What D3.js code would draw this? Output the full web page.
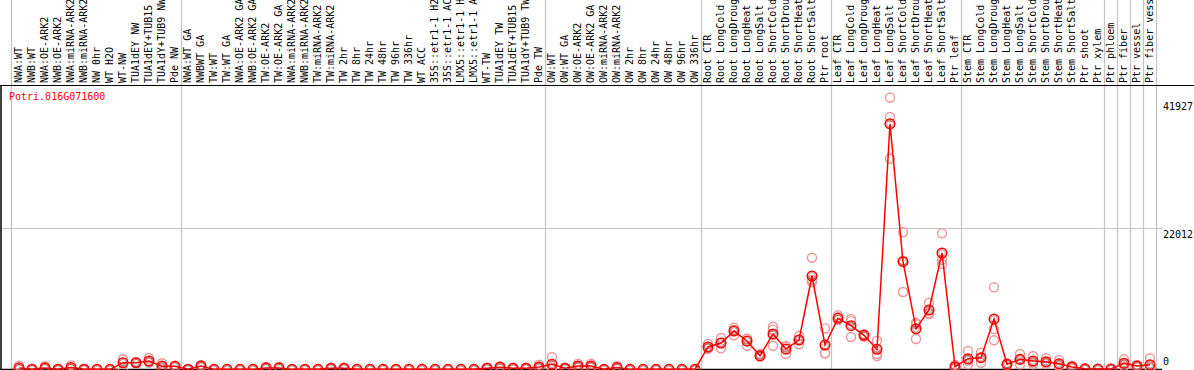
<!DOCTYPE html>
<html>
<head>
<meta charset="utf-8">
<script src="https://cdn.jsdelivr.net/npm/d3@7/dist/d3.min.js"></script>
<style>
  html, body { margin: 0; padding: 0; background: #fff; }
  svg { display: block; }
  text { font-family: "DejaVu Sans Mono", monospace; font-size: 10px; }
</style>
</head>
<body>
<svg id="chart" width="1194" height="370"></svg>
<script>
// ---------- data ----------
const geneName = "Potri.016G071600";

const categories = [
  "NWA:WT","NWB:WT","NWA:OE-ARK2","NWB:OE-ARK2","NWA:miRNA-ARK2","NWB:miRNA-ARK2",
  "NW 0hr","WT H2O","WT-NW","TUA1dEY NW","TUA1dEY+TUB15 NW","TUA1dY+TUB9 NW","Pde NW",
  "NWA:WT GA","NWBWT GA","TW:WT","TW:WT GA","NWA:OE-ARK2 GA","NWB:OE-ARK2 GA",
  "TW:OE-ARK2","TW:OE-ARK2 GA","NWA:miRNA-ARK2 GA","NWB:miRNA-ARK2 GA","TW:miRNA-ARK2",
  "TW:miRNA-ARK2 GA","TW 2hr","TW 8hr","TW 24hr","TW 48hr","TW 96hr","TW 336hr","WT ACC",
  "35S::etr1-1 H2O","35S::etr1-1 ACC","LMX5::etr1-1 H2O","LMX5::etr1-1 ACC","WT-TW",
  "TUA1dEY TW","TUA1dEY+TUB15 TW","TUA1dY+TUB9 TW","Pde TW",
  "OW:WT","OW:WT GA","OW:OE-ARK2","OW:OE-ARK2 GA","OW:miRNA-ARK2","OW:miRNA-ARK2 GA",
  "OW 2hr","OW 8hr","OW 24hr","OW 48hr","OW 96hr","OW 336hr",
  "Root CTR","Root LongCold","Root LongDrought","Root LongHeat","Root LongSalt",
  "Root ShortCold","Root ShortDrought","Root ShortHeat","Root ShortSalt","Ptr root",
  "Leaf CTR","Leaf LongCold","Leaf LongDrought","Leaf LongHeat","Leaf LongSalt",
  "Leaf ShortCold","Leaf ShortDrought","Leaf ShortHeat","Leaf ShortSalt","Ptr leaf",
  "Stem CTR","Stem LongCold","Stem LongDrought","Stem LongHeat","Stem LongSalt",
  "Stem ShortCold","Stem ShortDrought","Stem ShortHeat","Stem ShortSalt","Ptr shoot","Ptr xylem",
  "Ptr phloem","Ptr fiber","Ptr vessel","Ptr fiber vessel"
];

// number of categories in each separated group
const groupSizes = [13, 28, 12, 10, 10, 11, 1, 1, 1, 1];

const means = [
  250,40,250,40,300,40,20,20,1060,1060,1330,520,500,
  40,540,20,20,20,20,250,250,20,30,30,200,200,20,20,20,20,20,20,20,20,20,20,200,350,200,200,400,
  820,200,550,550,30,300,20,20,20,20,20,20,
  3510,4130,6000,4440,2150,5530,3200,4600,14580,3820,
  7980,6830,5330,3150,38320,16810,6360,9280,18160,440,
  1680,1840,7870,810,1590,1330,1220,900,390,100,60,
  80,970,550,750
];

const rep1 = [
  600,40,500,40,650,40,20,20,1600,1150,1800,980,600,
  40,720,20,20,20,20,400,400,20,30,30,300,300,20,20,20,20,20,20,20,20,20,20,300,500,300,300,750,
  1950,300,900,900,30,500,20,20,20,20,20,20,
  3980,4910,6520,4800,2420,6670,3660,5220,17430,6420,
  8450,7870,5530,4490,42400,21390,7050,10410,21230,700,
  2880,2620,12820,970,2420,2100,1750,1480,600,150,80,
  120,1590,700,1750
];
const rep2 = [
  100,40,150,40,150,40,20,20,1580,1050,1150,400,480,
  40,500,20,20,20,20,200,200,20,30,30,200,200,20,20,20,20,20,20,20,20,20,20,200,350,200,200,300,
  300,200,450,450,30,250,20,20,20,20,20,20,
  3310,4180,6150,4810,2040,6210,3530,4650,13950,2530,
  8140,7550,5330,2420,39370,16960,7280,8800,17070,400,
  1360,1840,6310,810,1540,1080,1060,700,350,100,60,
  80,800,550,300
];
const rep3 = [
  50,40,100,40,100,40,20,20,0,980,1040,180,420,
  40,400,20,20,20,20,150,150,20,30,30,100,100,20,20,20,20,20,20,20,20,20,20,100,200,100,100,150,
  210,100,300,300,30,150,20,20,20,20,20,20,
  3240,3300,5330,3710,2000,3710,2410,3930,13640,2510,
  7700,5070,5110,2110,32860,12080,4760,8650,16450,220,
  810,1060,4550,650,810,810,850,520,220,50,40,
  40,520,400,200
];

const yTicks = [0, 22012, 41927];

// ---------- layout ----------
const W = 1194, H = 370;
const svg = d3.select("#chart");
svg.append("rect").attr("width", W).attr("height", H).attr("fill", "#fff");

const x = d3.scalePoint()
  .domain(d3.range(categories.length))
  .range([19, 19 + 13 * (categories.length - 1)]);
const step = x.step();

const y = d3.scaleLinear().domain([0, 41927]).range([369.5, 100.6]);

const plotTop = 85.5;
const plotRight = 1162;

// group separator lines (grey, full height)
const boundaries = [x(0) - 8.5];
let acc = 0;
groupSizes.forEach(s => { acc += s; boundaries.push(x(acc - 1) + 5.5); });

svg.append("g").selectAll("line").data(boundaries).join("line")
  .attr("x1", d => Math.round(d) + 0.5).attr("x2", d => Math.round(d) + 0.5)
  .attr("y1", 0).attr("y2", H)
  .attr("stroke", "#c4c4c4").attr("stroke-width", 1.2);

// horizontal grid line at middle tick
svg.append("g").selectAll("line").data(yTicks.filter(v => v > 0 && v < 41927)).join("line")
  .attr("x1", 0).attr("x2", plotRight)
  .attr("y1", d => Math.round(y(d)) + 0.5).attr("y2", d => Math.round(y(d)) + 0.5)
  .attr("stroke", "#c4c4c4").attr("stroke-width", 1.2);

// black frame lines
svg.append("line").attr("x1", 0).attr("x2", W).attr("y1", plotTop).attr("y2", plotTop)
  .attr("stroke", "#000").attr("stroke-width", 1.2);
svg.append("line").attr("x1", 1).attr("x2", 1).attr("y1", plotTop).attr("y2", H)
  .attr("stroke", "#000").attr("stroke-width", 1.5);
svg.append("line").attr("x1", 0).attr("x2", plotRight).attr("y1", y(0)).attr("y2", y(0))
  .attr("stroke", "#000").attr("stroke-width", 1.5);

// category labels (rotated)
svg.append("g").selectAll("text").data(categories).join("text")
  .attr("transform", (d, i) => `translate(${x(i) + 2.5},83) rotate(-90)`)
  .attr("text-anchor", "start")
  .attr("fill", "#000")
  .text(d => d);

// gene name
svg.append("text").attr("x", 9).attr("y", 100).attr("fill", "#ff0000").text(geneName);

// y tick labels
svg.append("g").selectAll("text").data(yTicks).join("text")
  .attr("x", 1163)
  .attr("y", d => Math.min(y(d) + 9.5, 365))
  .attr("fill", "#000")
  .text(d => d);

// replicate points
const reps = [];
[rep1, rep2, rep3].forEach(r => r.forEach((v, i) => reps.push({ i, v })));
svg.append("g").selectAll("circle").data(reps).join("circle")
  .attr("cx", d => x(d.i)).attr("cy", d => y(d.v)).attr("r", 4.5)
  .attr("fill", "none").attr("stroke", "#eb9898").attr("stroke-width", 1.4);

// mean line
const line = d3.line().x((d, i) => x(i)).y(d => y(d));
svg.append("path").datum(means).attr("d", line)
  .attr("fill", "none").attr("stroke", "#ff0000").attr("stroke-width", 1.5);

// mean points
const mg = svg.append("g").selectAll("g").data(means).join("g")
  .attr("transform", (d, i) => `translate(${x(i)},${y(d)})`);
mg.append("circle").attr("r", 4.8).attr("fill", "none")
  .attr("stroke", "#ff0000").attr("stroke-width", 1.5);
mg.append("circle").attr("r", 3.4).attr("fill", "none")
  .attr("stroke", "#600").attr("stroke-width", 0.7).attr("stroke-opacity", 0.6);
</script>
</body>
</html>
